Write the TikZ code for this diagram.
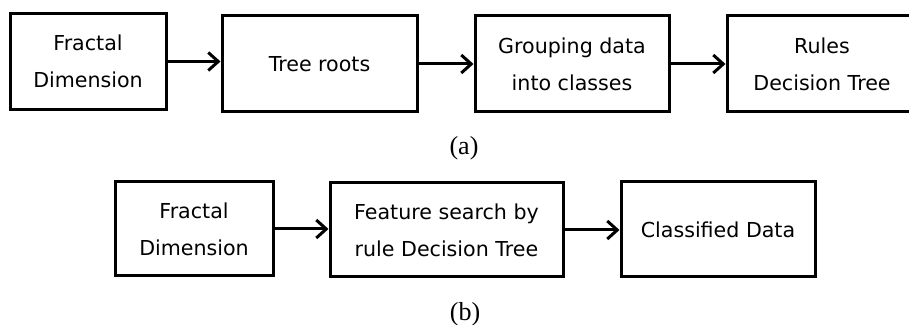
\documentclass[tikz,border=0pt]{standalone}
\usepackage{fontspec}
\setmainfont{Liberation Serif}
\newfontfamily\boxfont{DejaVu Sans}
\usetikzlibrary{arrows.meta}
\tikzset{>={Straight Barb[length=5pt,width=9pt]}}
\tikzset{
    stage/.style={draw, line width=1.5pt, align=center, inner sep=0pt,
        minimum height=48pt, font=\boxfont\fontsize{10.3}{18.5}\selectfont},
    flow/.style={->, line width=1.5pt},
    caption/.style={font=\fontsize{13}{15}\selectfont}
}

\begin{document}
\begin{tikzpicture}[x=0.5pt, y=-0.5pt]
    \useasboundingbox (0,0) rectangle (909,325);
    % training chain
    \node[stage, minimum width=78pt]   (fd1)   at (88,61.5) {Fractal\\Dimension};
    \node[stage, minimum width=97.5pt] (roots) at (319.5,64) {Tree roots};
    \node[stage, minimum width=97pt]   (group) at (572,64)   {Grouping data\\into classes};
    \node[stage, minimum width=95pt]   (rules) at (822,64)   {Rules\\Decision Tree};
    \node[caption] (capa) at (464,148) {(a)};
    \draw[flow] (fd1.east)   -- (fd1.east -| roots.west);
    \draw[flow] (roots.east) -- (roots.east -| group.west);
    \draw[flow] (group.east) -- (group.east -| rules.west);
    % classification chain
    \node[stage, minimum width=79pt, minimum height=47pt]   (fd2)    at (194,229)   {Fractal\\Dimension};
    \node[stage, minimum width=116.5pt, minimum height=47pt] (search) at (446.5,230) {Feature search by\\rule Decision Tree};
    \node[stage, minimum width=97pt, minimum height=47.5pt]  (result) at (718,229.5) {Classified Data};
    \node[caption] (capb) at (465,314) {(b)};
    \draw[flow] (fd2.east)    -- (fd2.east -| search.west);
    \draw[flow] (search.east) -- (search.east -| result.west);
\end{tikzpicture}
\end{document}
